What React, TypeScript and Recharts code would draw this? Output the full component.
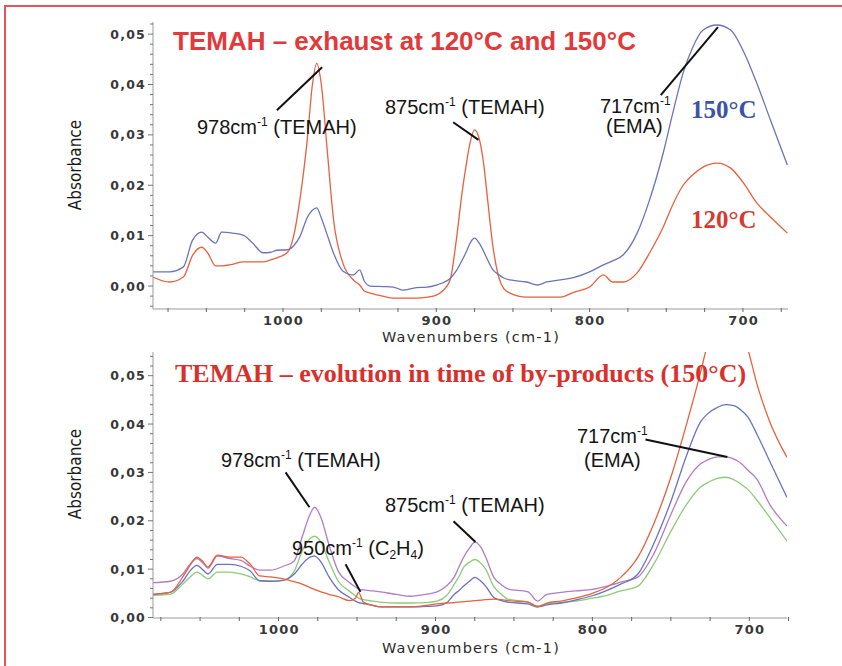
import React from "react";
import { LineChart, Line, XAxis, YAxis, ReferenceLine } from "recharts";

// top panel: exhaust at 120 and 150 °C
const topWavenumbers = [
  1085, 1074, 1065, 1059, 1053, 1049, 1044, 1040, 1033, 1026, 1020, 1013, 1008, 1004, 997, 993, 989, 984, 981, 978,
  975, 971, 967, 961, 954, 950, 947, 943, 935, 928, 922, 913, 906, 900, 896, 891, 887, 883, 880, 878, 875, 872, 869,
  867, 863, 859, 856, 852, 841, 834, 828, 819, 810, 800, 791, 785, 778, 769, 761, 752, 746, 739, 733, 726, 717, 708,
  700, 691, 682, 671,
];
const top150 = [
  0.0028, 0.0028, 0.0038, 0.0091, 0.0107, 0.0097, 0.0085, 0.0107, 0.0105, 0.0101, 0.0086, 0.0066, 0.0067, 0.0071,
  0.0072, 0.008, 0.0098, 0.0137, 0.015, 0.0155, 0.0135, 0.01, 0.0065, 0.003, 0.0022, 0.0032, 0.001, 0.0, -0.0001,
  -0.0002, -0.0008, -0.0003, -0.0002, 0.0002, 0.0006, 0.0015, 0.003, 0.0052, 0.0071, 0.0085, 0.0095, 0.0085, 0.0068,
  0.0055, 0.0032, 0.0022, 0.0016, 0.0012, 0.0008, 0.0002, 0.0008, 0.0012, 0.0017, 0.0028, 0.0042, 0.005, 0.0062,
  0.0105, 0.017, 0.0264, 0.034, 0.0423, 0.0472, 0.0508, 0.0518, 0.0508, 0.0468, 0.0403, 0.0329, 0.024,
];
const top120 = [
  0.0018, 0.0008, 0.0018, 0.0061, 0.0077, 0.0065, 0.004, 0.004, 0.0043, 0.0048, 0.0048, 0.0048, 0.0052, 0.0056,
  0.0067, 0.01, 0.0171, 0.0296, 0.0395, 0.0442, 0.04, 0.0264, 0.0131, 0.0046, 0.0012, 0.0002, -0.001, -0.0014, -0.002,
  -0.0024, -0.0024, -0.0024, -0.0022, -0.0018, -0.001, 0.0012, 0.009, 0.019, 0.025, 0.0284, 0.031, 0.0292, 0.024,
  0.0185, 0.0077, 0.0015, -0.0005, -0.0014, -0.0022, -0.0022, -0.0022, -0.0022, -0.0012, -0.0002, 0.0022, 0.0008,
  0.0008, 0.0026, 0.0065, 0.0117, 0.016, 0.02, 0.022, 0.0236, 0.0244, 0.0234, 0.0206, 0.0165, 0.0137, 0.0105,
];

// bottom panel: evolution in time of by-products (150 °C)
const bottomWavenumbers = [
  1080, 1069, 1061, 1056, 1052, 1048, 1045, 1039, 1031, 1024, 1018, 1012, 1005, 997, 990, 985, 980, 977, 973, 968,
  962, 955, 951, 949, 946, 940, 935, 925, 916, 906, 899, 893, 888, 885, 882, 878, 875, 871, 868, 863, 858, 854, 841,
  835, 829, 820, 811, 800, 793, 782, 771, 761, 750, 740, 731, 727, 720, 715, 710, 705, 701, 695, 687, 676,
];
const bottomRed = [
  0.0048, 0.0052, 0.0084, 0.011, 0.0125, 0.0115, 0.0104, 0.0129, 0.0125, 0.0125, 0.011, 0.0086, 0.0084, 0.008, 0.0074,
  0.0069, 0.0062, 0.0058, 0.0053, 0.0048, 0.0043, 0.0035, 0.004, 0.0052, 0.0032, 0.0025, 0.0022, 0.0022, 0.0022,
  0.0025, 0.0028, 0.003, 0.0031, 0.0032, 0.0033, 0.0034, 0.0035, 0.0036, 0.0037, 0.0038, 0.0037, 0.0035, 0.0032,
  0.0022, 0.003, 0.0034, 0.004, 0.005, 0.0059, 0.0083, 0.0125, 0.0193, 0.029, 0.04, 0.0508, 0.056, 0.061, 0.063, 0.062,
  0.059, 0.0555, 0.0481, 0.0405, 0.0331,
];
const bottomBlue = [
  0.0048, 0.0052, 0.0075, 0.0098, 0.0108, 0.0098, 0.009, 0.011, 0.011, 0.0106, 0.0096, 0.0076, 0.0075, 0.0077, 0.009,
  0.011, 0.0125, 0.0127, 0.0115, 0.0085, 0.0058, 0.0042, 0.0034, 0.0031, 0.0029, 0.0025, 0.0022, 0.0022, 0.0022,
  0.0023, 0.0024, 0.003, 0.0048, 0.0056, 0.0065, 0.0076, 0.0083, 0.0075, 0.0065, 0.0042, 0.0035, 0.0032, 0.0028,
  0.0022, 0.0026, 0.003, 0.0036, 0.0045, 0.0053, 0.0069, 0.009, 0.0152, 0.024, 0.0335, 0.0405, 0.042, 0.0435, 0.044,
  0.0438, 0.0428, 0.0415, 0.0378, 0.0323, 0.0248,
];
const bottomGreen = [
  0.0046, 0.0048, 0.0069, 0.0085, 0.0094, 0.0086, 0.008, 0.0094, 0.0094, 0.009, 0.0084, 0.0076, 0.0075, 0.0077, 0.0096,
  0.0137, 0.0163, 0.0168, 0.0156, 0.0117, 0.0075, 0.0055, 0.0045, 0.004, 0.0037, 0.0034, 0.0032, 0.003, 0.003, 0.0031,
  0.0034, 0.0045, 0.0069, 0.0085, 0.0104, 0.0115, 0.012, 0.0112, 0.01, 0.0065, 0.0048, 0.0038, 0.0032, 0.0024, 0.0028,
  0.0031, 0.0034, 0.004, 0.0044, 0.0055, 0.0065, 0.011, 0.0178, 0.0234, 0.027, 0.0278, 0.0288, 0.029, 0.0285, 0.0275,
  0.0265, 0.0242, 0.0207, 0.0158,
];
const bottomPurple = [
  0.0072, 0.0075, 0.009, 0.0112, 0.0122, 0.0112, 0.0102, 0.0127, 0.0122, 0.0118, 0.0106, 0.0098, 0.0098, 0.0106,
  0.0117, 0.0166, 0.0213, 0.0228, 0.0207, 0.0152, 0.0096, 0.0073, 0.0063, 0.0059, 0.0057, 0.0055, 0.0053, 0.0048,
  0.0044, 0.0048, 0.0053, 0.0065, 0.0084, 0.0105, 0.0125, 0.0145, 0.0156, 0.0145, 0.0125, 0.0084, 0.0068, 0.0059,
  0.0053, 0.0034, 0.0048, 0.0052, 0.0055, 0.0058, 0.0063, 0.0073, 0.0084, 0.0131, 0.0213, 0.0282, 0.0318, 0.0325,
  0.0332, 0.0332, 0.0328, 0.0318, 0.0305, 0.0285, 0.0234, 0.0189,
];

// axis ticks
const xTicks = [1075, 1050, 1025, 1000, 975, 950, 925, 900, 875, 850, 825, 800, 775, 750, 725, 700, 675];
const yMajorTicks = [0, 0.01, 0.02, 0.03, 0.04, 0.05];

// annotation leader lines, in data units
const topLeaders = [
  [{ x: 1004, y: 0.0349 }, { x: 974.5, y: 0.0434 }],
  [{ x: 889, y: 0.0325 }, { x: 872.5, y: 0.029 }],
  [{ x: 753.6, y: 0.0379 }, { x: 716.3, y: 0.0514 }],
];
const bottomLeaders = [
  [{ x: 995.5, y: 0.03 }, { x: 980.3, y: 0.0228 }],
  [{ x: 957.3, y: 0.011 }, { x: 947.8, y: 0.0053 }],
  [{ x: 888.5, y: 0.0199 }, { x: 874.5, y: 0.0156 }],
  [{ x: 766.2, y: 0.0368 }, { x: 714, y: 0.0332 }],
];

const topData = topWavenumbers.map((wn, i) => ({ wn, t150: top150[i], t120: top120[i] }));
const bottomData = bottomWavenumbers.map((wn, i) => ({
  wn,
  red: bottomRed[i],
  blue: bottomBlue[i],
  green: bottomGreen[i],
  purple: bottomPurple[i],
}));

// minor ticks every 0.002 between the majors
const withMinor = (from: number, to: number) => {
  const out: number[] = [];
  for (let k = Math.round(from * 500); k <= Math.round(to * 500); k++) out.push(k / 500);
  return out;
};
const topYTicks = withMinor(-0.004, 0.052);
const bottomYTicks = withMinor(0, 0.054);

const tickFont = "'DejaVu Sans', Verdana, sans-serif";
const annoFont = "'Liberation Sans', Arial, sans-serif";
const serifFont = "'Liberation Serif', 'Times New Roman', serif";

const XTick = (props: any) => {
  const { x, y, payload } = props;
  const v = payload.value;
  const major = v % 100 === 0;
  return (
    <g>
      <line x1={x} x2={x} y1={y - 1} y2={y + 3} stroke="#666" strokeWidth={1} />
      {major && (
        <text x={x + 0.6} y={y + 16} textAnchor="middle" fontFamily={tickFont} fontWeight="bold" fontSize={13} fill="#383838" letterSpacing={1.2}>
          {v}
        </text>
      )}
    </g>
  );
};

const YTick = (props: any) => {
  const { x, y, payload } = props;
  const v = payload.value;
  const major = yMajorTicks.some((m) => Math.abs(m - v) < 1e-7);
  return (
    <g>
      <line x1={x - (major ? 5 : 3)} x2={x} y1={y} y2={y} stroke="#777" strokeWidth={1} />
      {major && (
        <text x={x - 7} y={y} dy="0.36em" textAnchor="end" fontFamily={tickFont} fontWeight="bold" fontSize={12.5} fill="#383838" letterSpacing={1.2}>
          {v.toFixed(2).replace(".", ",")}
        </text>
      )}
    </g>
  );
};

const Sup = ({ children }: { children: React.ReactNode }) => (
  <tspan fontSize={12} dy={-8}>
    {children}
  </tspan>
);

const App: React.FC = () => {
  return (
    <div style={{ position: "absolute", left: 0, top: 0, width: 842, height: 666, background: "#fff", overflow: "hidden" }}>
      <div
        style={{
          position: "absolute",
          left: 4,
          top: 5,
          width: 850,
          height: 670,
          borderLeft: "2px solid #e9545a",
          borderTop: "2px solid #e9545a",
        }}
      />
      <div style={{ position: "absolute", left: 0, top: 0 }}>
        <LineChart width={842} height={333} data={topData} margin={{ top: 22, right: 54, bottom: 0, left: 93 }}>
          <XAxis
            dataKey="wn"
            type="number"
            domain={[670.6, 1084.8]}
            reversed
            allowDataOverflow
            ticks={xTicks}
            interval={0}
            tick={<XTick />}
            tickLine={false}
            tickSize={0}
            tickMargin={0}
            height={24}
            axisLine={{ stroke: "#9a9a9a" }}
          />
          <YAxis
            type="number"
            domain={[-0.00456, 0.0524]}
            allowDataOverflow
            ticks={topYTicks}
            interval={0}
            tick={<YTick />}
            tickLine={false}
            tickSize={0}
            tickMargin={0}
            width={60}
            axisLine={{ stroke: "#9a9a9a" }}
          />
          <Line type="monotone" dataKey="t120" stroke="#e8603c" strokeWidth={1.3} dot={false} isAnimationActive={false} />
          <Line type="monotone" dataKey="t150" stroke="#6b73bb" strokeWidth={1.3} dot={false} isAnimationActive={false} />
          {topLeaders.map((seg, i) => (
            <ReferenceLine key={i} segment={seg} stroke="#111" strokeWidth={2} ifOverflow="visible" />
          ))}
        </LineChart>
      </div>
      <div style={{ position: "absolute", left: 0, top: 333 }}>
        <LineChart width={842} height={333} data={bottomData} margin={{ top: 19, right: 55, bottom: 24, left: 93 }}>
          <XAxis
            dataKey="wn"
            type="number"
            domain={[676, 1080]}
            reversed
            allowDataOverflow
            ticks={xTicks}
            interval={0}
            tick={<XTick />}
            tickLine={false}
            tickSize={0}
            tickMargin={0}
            height={24}
            axisLine={{ stroke: "#9a9a9a" }}
          />
          <YAxis
            type="number"
            domain={[-0.0001, 0.0549]}
            allowDataOverflow
            ticks={bottomYTicks}
            interval={0}
            tick={<YTick />}
            tickLine={false}
            tickSize={0}
            tickMargin={0}
            width={60}
            axisLine={{ stroke: "#9a9a9a" }}
          />
          <Line type="monotone" dataKey="green" stroke="#8ccb78" strokeWidth={1.3} dot={false} isAnimationActive={false} />
          <Line type="monotone" dataKey="purple" stroke="#b27cc4" strokeWidth={1.3} dot={false} isAnimationActive={false} />
          <Line type="monotone" dataKey="blue" stroke="#6b73c0" strokeWidth={1.3} dot={false} isAnimationActive={false} />
          <Line type="monotone" dataKey="red" stroke="#e8603c" strokeWidth={1.3} dot={false} isAnimationActive={false} />
          {bottomLeaders.map((seg, i) => (
            <ReferenceLine key={i} segment={seg} stroke="#111" strokeWidth={2} ifOverflow="visible" />
          ))}
        </LineChart>
      </div>
      <svg width={842} height={666} style={{ position: "absolute", left: 0, top: 0, pointerEvents: "none" }}>
        {/* titles */}
        <text x={173} y={50} fontFamily={annoFont} fontWeight="bold" fontSize={26} fill="#e2393a">
          TEMAH – exhaust at 120°C and 150°C
        </text>
        <text x={175} y={382} fontFamily={serifFont} fontWeight="bold" fontSize={26} fill="#d9302c">
          TEMAH – evolution in time of by-products (150°C)
        </text>
        <text x={691} y={118} fontFamily={serifFont} fontWeight="bold" fontSize={25} fill="#3b54a5">
          150°C
        </text>
        <text x={691} y={228} fontFamily={serifFont} fontWeight="bold" fontSize={25} fill="#d63b2f">
          120°C
        </text>

        {/* axis titles */}
        {[165, 474].map((cy) => (
          <text
            key={cy}
            x={0}
            y={0}
            transform={`translate(81 ${cy}) rotate(-90)`}
            textAnchor="middle"
            fontFamily="'Liberation Sans Narrow', 'DejaVu Sans Condensed', sans-serif"
            fontSize={17}
            fill="#1a1a1a"
          >
            Absorbance
          </text>
        ))}
        {[342, 653].map((by) => (
          <text key={by} x={471} y={by} textAnchor="middle" fontFamily={tickFont} fontSize={14.5} fill="#2a2a2a" letterSpacing={1.2}>
            Wavenumbers (cm-1)
          </text>
        ))}

        {/* annotations, top */}
        <g fontFamily={annoFont} fontSize={20} fill="#151515">
          <text x={197} y={134}>
            978cm<Sup>-1</Sup>
            <tspan dy={8}>{" (TEMAH)"}</tspan>
          </text>
          <text x={385} y={114}>
            875cm<Sup>-1</Sup>
            <tspan dy={8}>{" (TEMAH)"}</tspan>
          </text>
          <text x={600} y={113}>
            717cm<Sup>-1</Sup>
          </text>
          <text x={606} y={133}>
            (EMA)
          </text>

          {/* annotations, bottom */}
          <text x={221} y={467}>
            978cm<Sup>-1</Sup>
            <tspan dy={8}>{" (TEMAH)"}</tspan>
          </text>
          <text x={292} y={555}>
            950cm<Sup>-1</Sup>
            <tspan dy={8}>{" (C"}</tspan>
            <tspan fontSize={12} dy={4}>2</tspan>
            <tspan dy={-4}>H</tspan>
            <tspan fontSize={12} dy={4}>4</tspan>
            <tspan dy={-4}>)</tspan>
          </text>
          <text x={385} y={512}>
            875cm<Sup>-1</Sup>
            <tspan dy={8}>{" (TEMAH)"}</tspan>
          </text>
          <text x={577} y={443}>
            717cm<Sup>-1</Sup>
          </text>
          <text x={584} y={467}>
            (EMA)
          </text>
        </g>
      </svg>
    </div>
  );
};

export default App;
